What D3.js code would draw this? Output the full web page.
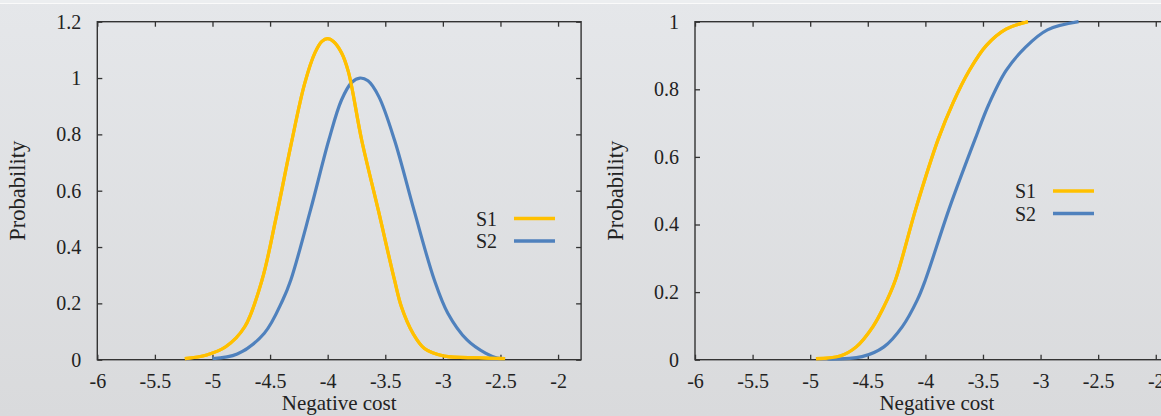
<!DOCTYPE html>
<html lang="en">
<head>
<meta charset="UTF-8">
<title>Negative cost distributions</title>
<script src="https://d3js.org/d3.v7.min.js"></script>
<style>
  body { margin: 0; }
  text { font-family: "Liberation Serif", "Times New Roman", serif; fill: #222; }
</style>
</head>
<body>
<div id="chart"></div>
<script>
// tick values
const xTicks = [-6, -5.5, -5, -4.5, -4, -3.5, -3, -2.5, -2];
const pdfYTicks = [0, 0.2, 0.4, 0.6, 0.8, 1, 1.2];
const cdfYTicks = [0, 0.2, 0.4, 0.6, 0.8, 1];
const seriesNames = ["S1", "S2"];

// left panel: density, [negative cost, probability]
const pdfS1 = [[-5.24,0.004],[-5.05,0.017],[-4.885,0.046],[-4.72,0.117],[-4.57,0.283],[-4.45,0.50],
  [-4.32,0.76],[-4.2,0.98],[-4.11,1.09],[-4.05,1.13],[-4.0,1.14],[-3.95,1.13],[-3.88,1.09],[-3.82,1.022],
  [-3.705,0.78],[-3.56,0.53],[-3.42,0.283],[-3.36,0.188],[-3.26,0.094],[-3.16,0.040],[-2.99,0.013],
  [-2.69,0.007],[-2.46,0.004]];
const pdfS2 = [[-5.0,0.004],[-4.785,0.02],[-4.55,0.094],[-4.39,0.212],[-4.32,0.283],[-4.15,0.53],
  [-3.99,0.78],[-3.88,0.922],[-3.79,0.985],[-3.72,1.0],[-3.65,0.99],[-3.556,0.934],[-3.42,0.78],
  [-3.25,0.53],[-3.074,0.283],[-2.957,0.165],[-2.79,0.070],[-2.63,0.023],[-2.53,0.006],[-2.46,0.003]];

// right panel: cumulative
const cdfS1 = [[-4.95,0.003],[-4.74,0.011],[-4.60,0.038],[-4.455,0.098],[-4.36,0.157],[-4.26,0.236],
  [-4.08,0.45],[-3.89,0.651],[-3.76,0.76],[-3.62,0.855],[-3.47,0.93],[-3.30,0.978],[-3.11,1.0]];
const cdfS2 = [[-4.85,0.002],[-4.55,0.009],[-4.36,0.038],[-4.20,0.098],[-4.07,0.177],[-4.0,0.236],
  [-3.79,0.45],[-3.57,0.651],[-3.45,0.755],[-3.3,0.855],[-3.13,0.925],[-2.94,0.976],[-2.67,1.0]];

const colors = ["#ffc000", "#4f81bd"];

const svg = d3.select("#chart").append("svg")
  .attr("width", 1161)
  .attr("height", 416);

const grad = svg.append("defs").append("linearGradient")
  .attr("id", "bg").attr("x1", 0).attr("y1", 0).attr("x2", 0).attr("y2", 1);
grad.append("stop").attr("offset", "0%").attr("stop-color", "#e5e7ea");
grad.append("stop").attr("offset", "100%").attr("stop-color", "#d9dadc");

svg.append("rect").attr("width", 1161).attr("height", 416).attr("fill", "url(#bg)");
svg.append("rect").attr("width", 1161).attr("height", 3).attr("fill", "#eceef0");
svg.append("line").attr("x1", 0).attr("x2", 1161).attr("y1", 3.5).attr("y2", 3.5)
  .attr("stroke", "#fafafa").attr("stroke-width", 1.2);

function panel(left, yMax, yTicks, s1, s2, legendX, legendY) {
  const w = 483.8, h = 338, top = 21.7;
  const g = svg.append("g").attr("transform", `translate(${left},${top})`);

  const x = d3.scaleLinear().domain([-6, -1.8]).range([0, w]);
  const y = d3.scaleLinear().domain([0, yMax]).range([h, 0]);

  const fmt = d => String(d);

  g.append("g").attr("transform", `translate(0,${h})`)
    .call(d3.axisBottom(x).tickValues(xTicks).tickFormat(fmt).tickSizeInner(-5).tickSizeOuter(0).tickPadding(14));
  g.append("g")
    .call(d3.axisLeft(y).tickValues(yTicks).tickFormat(fmt).tickSizeInner(-5).tickSizeOuter(0).tickPadding(16));
  g.append("g")
    .call(d3.axisTop(x).tickValues(xTicks).tickFormat("").tickSizeInner(-5).tickSizeOuter(0));
  g.append("g").attr("transform", `translate(${w},0)`)
    .call(d3.axisRight(y).tickValues(yTicks).tickFormat("").tickSizeInner(-5).tickSizeOuter(0));

  g.selectAll(".domain").remove();
  g.selectAll(".tick line").attr("stroke", "#333").attr("stroke-width", 1.3);
  g.selectAll(".tick text").style("font-family", "Liberation Serif").style("font-size", "20px").attr("fill", "#222");

  g.append("rect").attr("width", w).attr("height", h)
    .attr("fill", "none").attr("stroke", "#333").attr("stroke-width", 1.4);

  const line = d3.line().x(d => x(d[0])).y(d => y(d[1])).curve(d3.curveCatmullRom.alpha(0.5));
  [s1, s2].forEach((s, i) => {
    g.append("path").datum(s).attr("d", line)
      .attr("fill", "none").attr("stroke", colors[i]).attr("stroke-width", 3.2)
      .attr("stroke-linejoin", "round");
  });
  // S1 drawn again on top where they overlap near zero
  g.append("path").datum(s1).attr("d", line)
    .attr("fill", "none").attr("stroke", colors[0]).attr("stroke-width", 3.2);

  g.append("text")
    .attr("transform", `translate(${-72},${h / 2}) rotate(-90)`)
    .attr("text-anchor", "middle").style("font-size", "22.5px")
    .text("Probability");
  g.append("text")
    .attr("x", w / 2).attr("y", 388.5)
    .attr("text-anchor", "middle").style("font-size", "21px")
    .text("Negative cost");

  seriesNames.forEach((name, i) => {
    const ly = legendY + i * 22.5;
    svg.append("text").attr("x", legendX).attr("y", ly).attr("dy", "0.35em")
      .style("font-size", "20px").text(name);
    svg.append("line").attr("x1", legendX + 38).attr("x2", legendX + 79)
      .attr("y1", ly).attr("y2", ly)
      .attr("stroke", colors[i]).attr("stroke-width", 3.5);
  });
}

panel(97.3, 1.2, pdfYTicks, pdfS1, pdfS2, 476, 218.5);
panel(695, 1, cdfYTicks, cdfS1, cdfS2, 1015, 191);
</script>
</body>
</html>
